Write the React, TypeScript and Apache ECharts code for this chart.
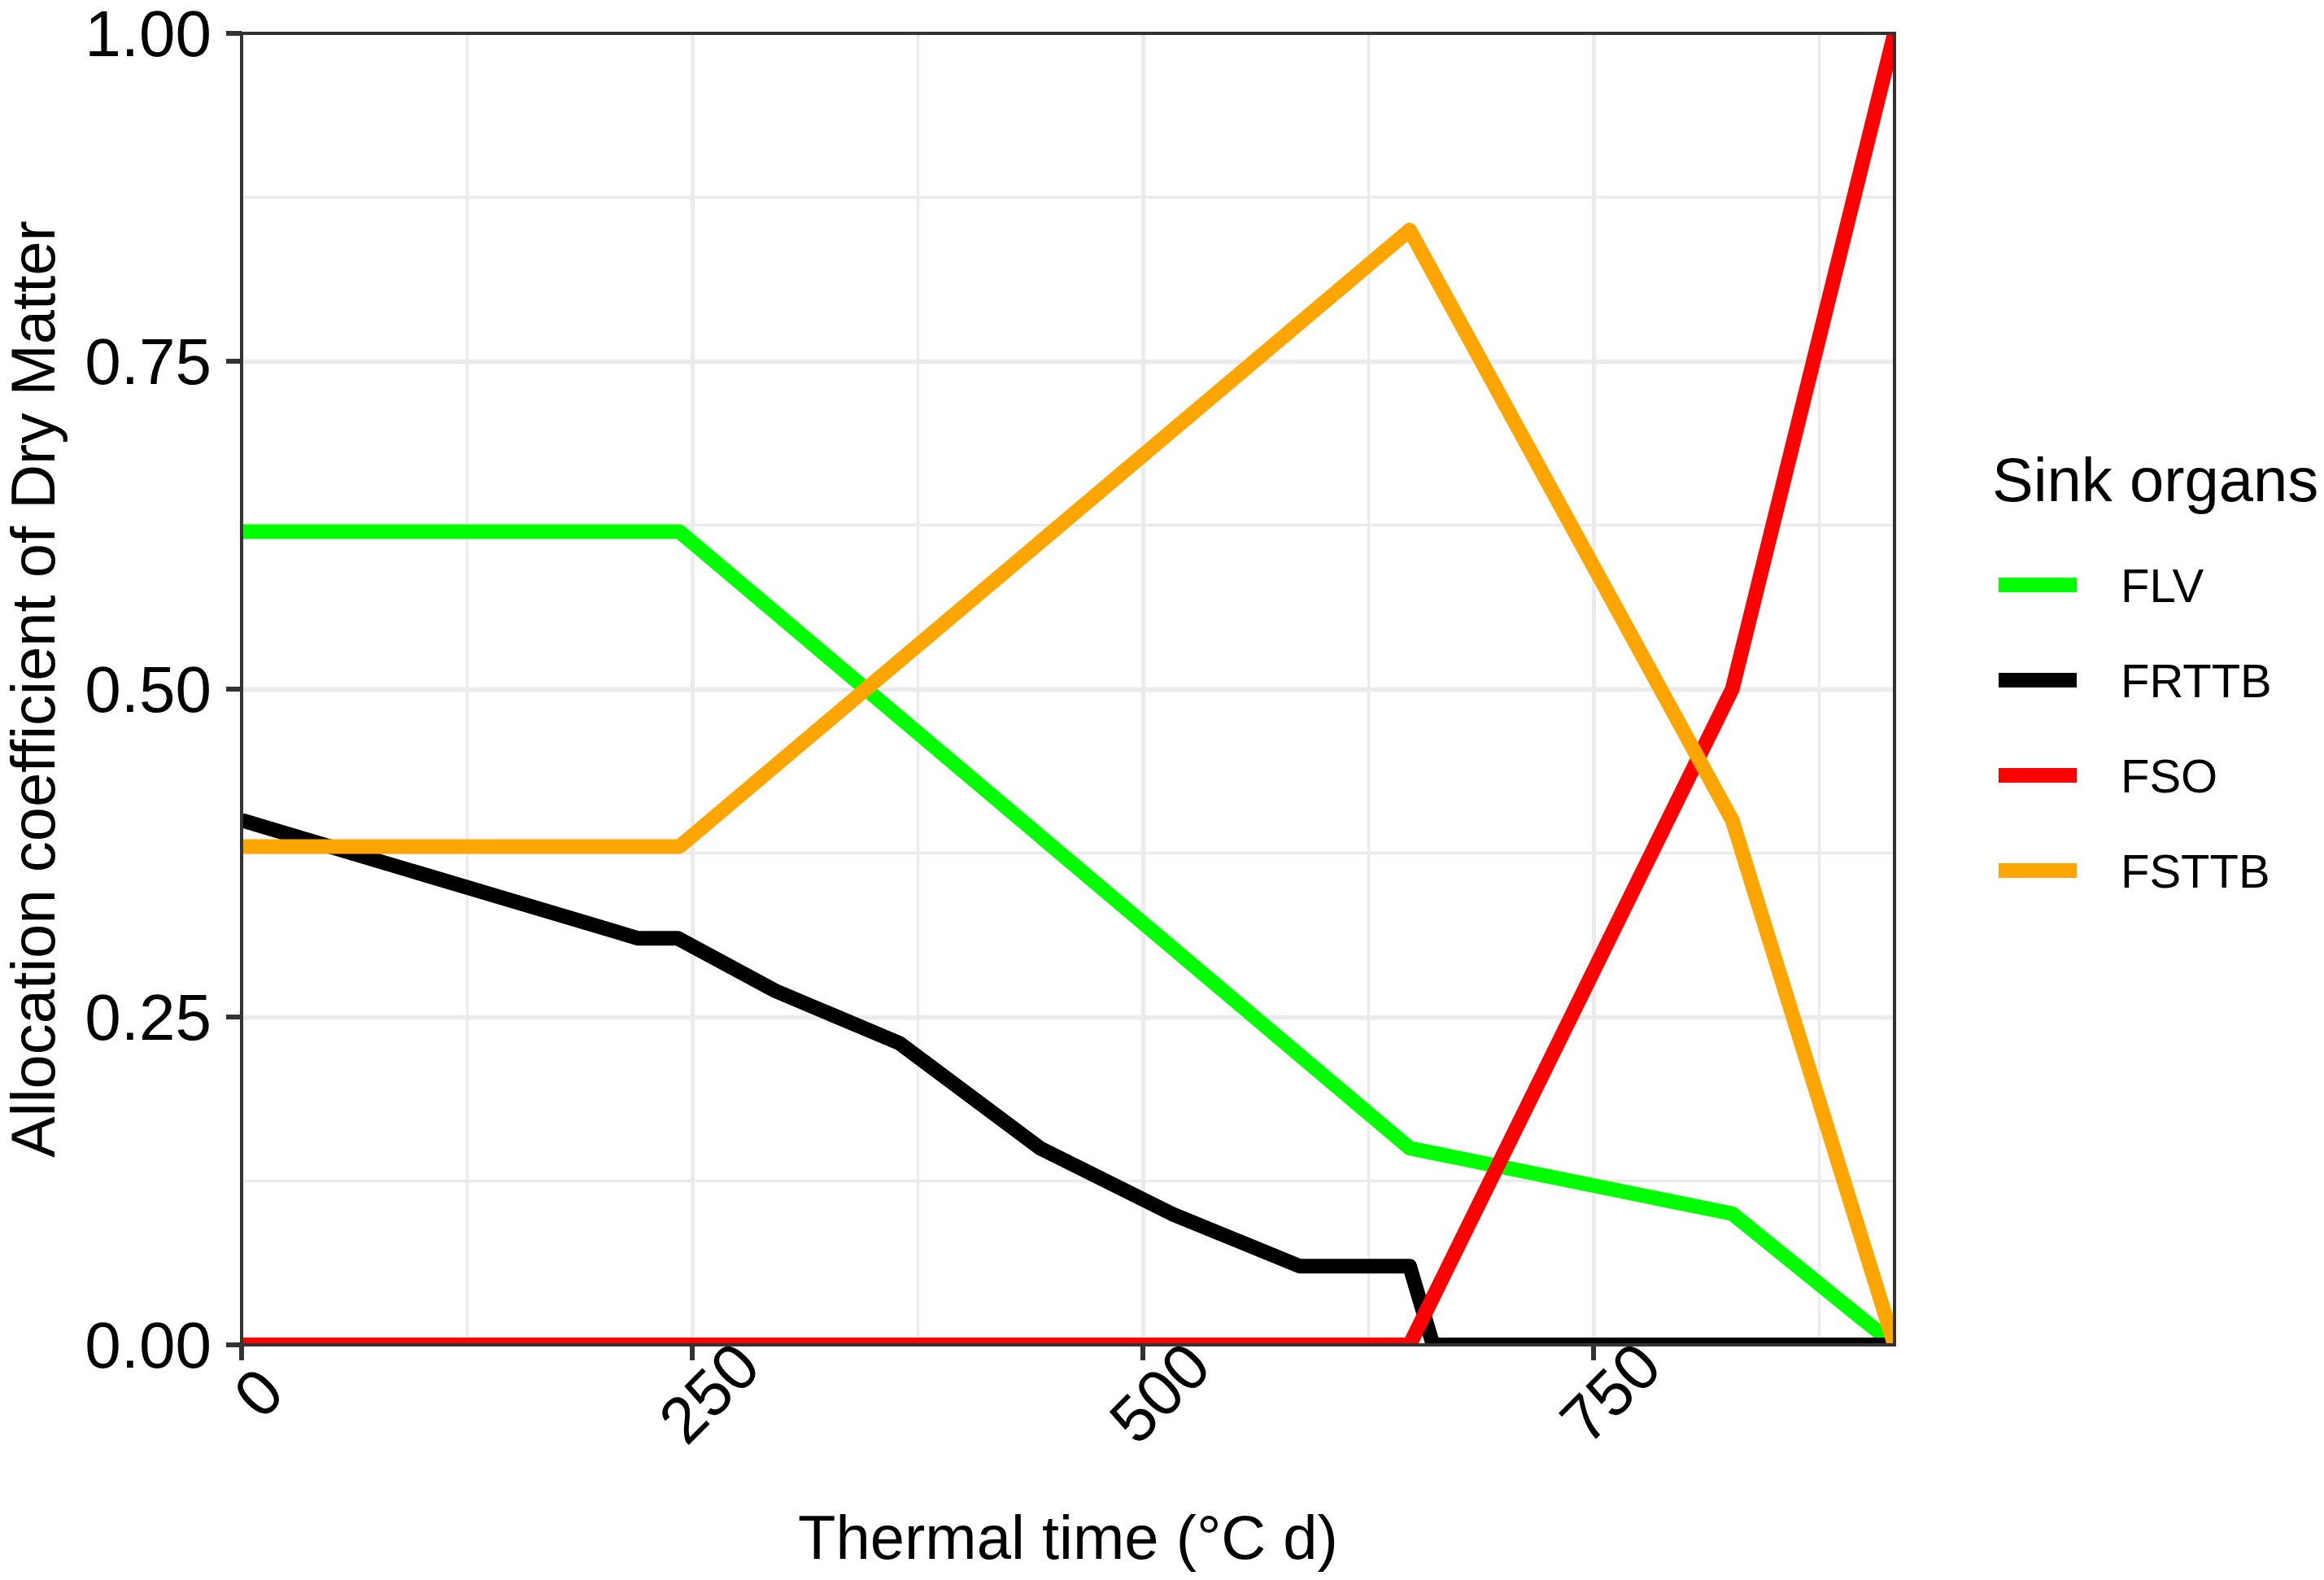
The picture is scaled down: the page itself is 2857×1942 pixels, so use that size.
import React, { useEffect, useRef } from "react";
import * as echarts from "echarts";

// ---- Data ----
const seriesNames = ["FLV", "FRTTB", "FSO", "FSTTB"];
const seriesColors = ["#00FF00", "#000000", "#FF0000", "#FFA500"];

const flvTime = [0, 243, 648, 827, 917];
const flvValue = [0.62, 0.62, 0.15, 0.1, 0.0];

const frttbTime = [0, 220, 242, 296, 365, 443, 516, 587, 648, 661, 917];
const frttbValue = [0.4, 0.31, 0.31, 0.27, 0.23, 0.15, 0.1, 0.06, 0.06, 0.0, 0.0];

const fsoTime = [0, 648, 827, 917];
const fsoValue = [0.0, 0.0, 0.5, 1.0];

const fsttbTime = [0, 243, 648, 827, 917];
const fsttbValue = [0.38, 0.38, 0.85, 0.4, 0.0];

const xTickValues = [0, 250, 500, 750];
const yTickValues = [0, 0.25, 0.5, 0.75, 1];

const xTitle = "Thermal time (°C d)";
const yTitle = "Allocation coefficient of Dry Matter";
const legendTitle = "Sink organs";

const FONT = '"Liberation Sans", Arial, Helvetica, sans-serif';

// panel layout (pixels)
const W = 2857;
const H = 1942;
const P_LEFT = 297;
const P_RIGHT = 528;
const P_TOP = 41;
const P_BOTTOM = 289;

function pairs(xs: number[], ys: number[]) {
  return xs.map((x, i) => [x, ys[i]]);
}

export default function App() {
  const ref = useRef<HTMLDivElement>(null);

  useEffect(() => {
    document.body.style.margin = "0";
    if (!ref.current) return;
    const chart = echarts.init(ref.current, undefined, { renderer: "svg" });

    const allSeries = [
      pairs(flvTime, flvValue),
      pairs(frttbTime, frttbValue),
      pairs(fsoTime, fsoValue),
      pairs(fsttbTime, fsttbValue),
    ];
    const xMax = Math.max(...flvTime, ...frttbTime, ...fsoTime, ...fsttbTime);
    const yMin = yTickValues[0];
    const yMax = yTickValues[yTickValues.length - 1];

    const pw = W - P_LEFT - P_RIGHT;
    const ph = H - P_TOP - P_BOTTOM;
    const m = 12; // mask strip width outside the panel

    const gridLine = { color: "#EBEBEB", width: 5.3 };
    const minorGridLine = { color: "#EBEBEB", width: 3.3 };
    const tickStyle = { color: "#333333", width: 6 };

    const option: any = {
      animation: false,
      backgroundColor: "#ffffff",
      textStyle: { fontFamily: FONT },
      grid: {
        left: P_LEFT,
        right: P_RIGHT,
        top: P_TOP,
        bottom: P_BOTTOM,
        show: false,
        containLabel: false,
        outerBoundsMode: "none",
      },
      xAxis: [
        {
          // grid lines only
          type: "value",
          position: "top",
          min: 0,
          max: xMax,
          interval: 250,
          z: 0,
          axisLine: { show: false },
          axisTick: { show: false },
          axisLabel: { show: false },
          splitLine: { show: true, showMinLine: false, showMaxLine: false, lineStyle: gridLine },
          minorTick: { show: false, splitNumber: 2 },
          minorSplitLine: { show: true, lineStyle: minorGridLine },
        },
        {
          // ticks, labels and title
          type: "value",
          position: "bottom",
          min: 0,
          max: xMax,
          interval: 250,
          z: 10,
          name: xTitle,
          nameLocation: "middle",
          nameGap: 198,
          nameTextStyle: { fontSize: 76, color: "#000000", fontFamily: FONT },
          axisLine: { show: false },
          axisTick: { show: true, length: 19, customValues: xTickValues, lineStyle: tickStyle },
          axisLabel: {
            customValues: xTickValues,
            rotate: 45,
            align: "center",
            verticalAlign: "middle",
            margin: 80,
            padding: [0, 0, 0, 59],
            fontSize: 80,
            color: "#000000",
            fontFamily: FONT,
          },
          splitLine: { show: false },
          minorSplitLine: { show: false },
        },
      ],
      yAxis: [
        {
          // grid lines only
          type: "value",
          position: "right",
          min: yMin,
          max: yMax,
          interval: 0.25,
          z: 0,
          axisLine: { show: false },
          axisTick: { show: false },
          axisLabel: { show: false },
          splitLine: { show: true, showMinLine: false, showMaxLine: false, lineStyle: gridLine },
          minorTick: { show: false, splitNumber: 2 },
          minorSplitLine: { show: true, lineStyle: minorGridLine },
        },
        {
          // ticks, labels and title
          type: "value",
          position: "left",
          min: yMin,
          max: yMax,
          interval: 0.25,
          z: 10,
          name: yTitle,
          nameLocation: "middle",
          nameGap: 219,
          nameRotate: 90,
          nameTextStyle: { fontSize: 76, color: "#000000", fontFamily: FONT },
          axisLine: { show: false },
          axisTick: { show: true, length: 19, lineStyle: tickStyle },
          axisLabel: {
            margin: 37,
            fontSize: 80,
            color: "#000000",
            fontFamily: FONT,
            formatter: (v: number) => v.toFixed(2),
          },
          splitLine: { show: false },
          minorSplitLine: { show: false },
        },
      ],
      legend: {
        orient: "vertical",
        left: 2457,
        top: 690,
        padding: 0,
        itemWidth: 96,
        itemHeight: 18,
        itemGap: 59,
        icon: "rect",
        selectedMode: false,
        data: seriesNames,
        textStyle: {
          fontSize: 58,
          color: "#000000",
          fontFamily: FONT,
          padding: [0, 0, 0, 49],
        },
      },
      graphic: [
        {
          type: "text",
          x: 2449,
          y: 589,
          silent: true,
          style: {
            text: legendTitle,
            fontSize: 76,
            fontFamily: FONT,
            fill: "#000000",
            align: "left",
            verticalAlign: "middle",
          },
        },
        // white strips that clip the thick lines at the panel edge
        {
          type: "rect",
          z: 5,
          silent: true,
          shape: { x: P_LEFT - m, y: P_TOP + ph + 2, width: pw + 2 * m, height: m },
          style: { fill: "#ffffff" },
        },
        {
          type: "rect",
          z: 5,
          silent: true,
          shape: { x: P_LEFT - m, y: P_TOP - 2 - m, width: pw + 2 * m, height: m },
          style: { fill: "#ffffff" },
        },
        {
          type: "rect",
          z: 5,
          silent: true,
          shape: { x: P_LEFT - 2 - m, y: P_TOP - m, width: m, height: ph + 2 * m },
          style: { fill: "#ffffff" },
        },
        {
          type: "rect",
          z: 5,
          silent: true,
          shape: { x: P_LEFT + pw + 2, y: P_TOP - m, width: m, height: ph + 2 * m },
          style: { fill: "#ffffff" },
        },
        // panel border on top of the data
        {
          type: "rect",
          z: 6,
          silent: true,
          shape: { x: P_LEFT, y: P_TOP, width: pw, height: ph },
          style: { fill: "none", stroke: "#333333", lineWidth: 4 },
        },
      ],
      series: seriesNames.map((name, i) => ({
        name,
        type: "line",
        xAxisIndex: 0,
        yAxisIndex: 0,
        data: allSeries[i],
        showSymbol: false,
        symbol: "none",
        clip: true,
        silent: true,
        color: seriesColors[i],
        itemStyle: { color: seriesColors[i] },
        lineStyle: { color: seriesColors[i], width: 18, join: "round", cap: "butt" },
      })),
    };

    chart.setOption(option);
    return () => {
      chart.dispose();
    };
  }, []);

  return (
    <div
      ref={ref}
      style={{ position: "fixed", left: 0, top: 0, width: W + "px", height: H + "px" }}
    />
  );
}
